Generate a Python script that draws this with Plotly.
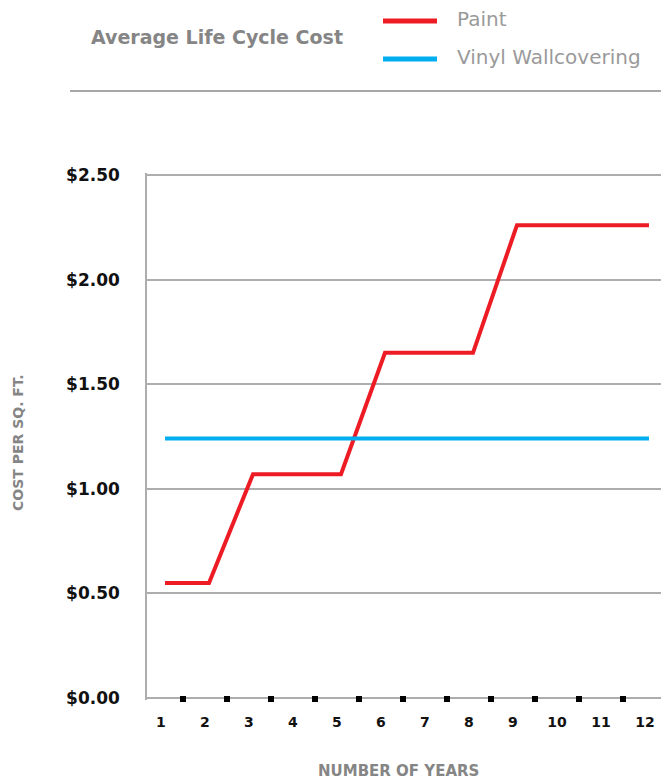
import plotly.graph_objects as go

# ---- data ----
years = [1, 2, 3, 4, 5, 6, 7, 8, 9, 10, 11, 12]
year_labels = [str(y) for y in years]
paint_cost = [0.55, 0.55, 1.07, 1.07, 1.07, 1.65, 1.65, 1.65, 2.26, 2.26, 2.26, 2.26]
vinyl_cost = [1.24, 1.24, 1.24, 1.24, 1.24, 1.24, 1.24, 1.24, 1.24, 1.24, 1.24, 1.24]
y_ticks = [0, 0.5, 1.0, 1.5, 2.0, 2.5]
y_tick_labels = ["$0.00", "$0.50", "$1.00", "$1.50", "$2.00", "$2.50"]
series_names = ["Paint", "Vinyl Wallcovering"]
title_text = "Average Life Cycle Cost"
x_title = "NUMBER OF YEARS"
y_title = "COST PER SQ. FT."

RED = "#ED1C24"
BLUE = "#00AEEF"
GRID = "#ADADAD"
GREY_TXT = "#858585"
FONT = "DejaVu Sans"

# page offset (body margin) and reference pixel frame (window 669 x 781)
OFF = 8
FIG_W, FIG_H = 669 - OFF, 781 - OFF
L, R, T, B = 147, 669, 173, 700
W, H = R - L, B - T


def px(x):
    return (x - L) / W


def py(y):
    return (B - y) / H


fig = go.Figure()
fig.add_trace(go.Scatter(x=years, y=paint_cost, mode="lines", name=series_names[0],
                         line=dict(color=RED, width=4), showlegend=False))
fig.add_trace(go.Scatter(x=years, y=vinyl_cost, mode="lines", name=series_names[1],
                         line=dict(color=BLUE, width=4), showlegend=False))

shapes = [
    dict(type="line", xref="paper", yref="paper", x0=px(383), x1=px(437), y0=py(21), y1=py(21),
         line=dict(color=RED, width=5)),
    dict(type="line", xref="paper", yref="paper", x0=px(383), x1=px(437), y0=py(59), y1=py(59),
         line=dict(color=BLUE, width=5)),
    dict(type="line", xref="paper", yref="paper", x0=px(70), x1=px(669), y0=py(91), y1=py(91),
         line=dict(color="#8A8A8A", width=1.5)),
]

annotations = [
    dict(text=title_text, xref="paper", yref="paper", x=px(89), y=py(37), xanchor="left",
         yanchor="middle", showarrow=False,
         font=dict(family=FONT, size=19, color=GREY_TXT, weight="bold")),
    dict(text=series_names[0], xref="paper", yref="paper", x=px(455), y=py(19), xanchor="left",
         yanchor="middle", showarrow=False, font=dict(family=FONT, size=20, color="#9A9A9A")),
    dict(text=series_names[1], xref="paper", yref="paper", x=px(455), y=py(57), xanchor="left",
         yanchor="middle", showarrow=False, font=dict(family=FONT, size=20, color="#9A9A9A")),
    dict(text=y_title, xref="paper", yref="paper", x=px(18), y=py(443), xanchor="center",
         yanchor="middle", textangle=-90, showarrow=False,
         font=dict(family=FONT, size=14, color=GREY_TXT, weight="bold")),
    dict(text=x_title, xref="paper", yref="paper", x=px(398), y=py(771), xanchor="center",
         yanchor="middle", showarrow=False,
         font=dict(family=FONT, size=15, color=GREY_TXT, weight="bold")),
]

# y range padded slightly so the $0.00 and $2.50 grid lines are kept at the edges
Y_PAD = 2 / 209.2
fig.update_layout(
    width=FIG_W, height=FIG_H, autosize=False,
    margin=dict(l=L - OFF, r=669 - R, t=T - OFF, b=FIG_H - (B - OFF), pad=0),
    paper_bgcolor="white", plot_bgcolor="white",
    shapes=shapes, annotations=annotations,
    xaxis=dict(
        range=[0.591, 12.455], anchor="free", position=5 / H,
        showline=False, showgrid=False, zeroline=False,
        tickmode="array", tickvals=[y + 18 / 44 for y in years], ticktext=year_labels,
        ticks="outside", ticklen=6, tickwidth=6, tickcolor="black",
        ticklabelshift=-22, ticklabelstandoff=8,
        tickfont=dict(family=FONT, size=14, color="#111111", weight="bold"),
    ),
    yaxis=dict(
        range=[-Y_PAD, 2.5 + Y_PAD], tickmode="array", tickvals=y_ticks, ticktext=y_tick_labels,
        showgrid=True, gridcolor=GRID, gridwidth=1.5, zeroline=False,
        showline=True, linecolor=GRID, linewidth=1.5, ticks="",
        ticklabelstandoff=22,
        tickfont=dict(family=FONT, size=17, color="#111111", weight="bold"),
    ),
)

fig.write_html("out.html")
